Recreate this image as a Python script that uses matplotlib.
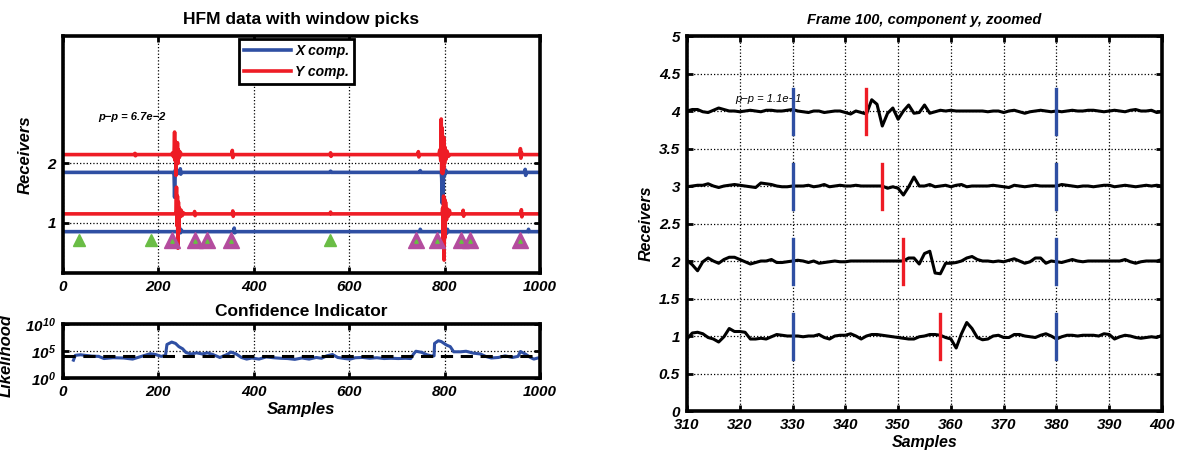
import numpy as np
import matplotlib
matplotlib.use("Agg")
import matplotlib.pyplot as plt

plt.rcParams['font.family'] = ['Liberation Sans', 'DejaVu Sans']
plt.rcParams['mathtext.fontset'] = 'custom'
plt.rcParams['mathtext.rm'] = 'Liberation Sans:italic:bold'
plt.rcParams['mathtext.it'] = 'Liberation Sans:italic:bold'
plt.rcParams['mathtext.bf'] = 'Liberation Sans:italic:bold'

BLUE = '#2f4fa3'
RED = '#ee1c25'
GREEN = '#6abd45'
MAGENTA = '#b44c9e'

# ---- left top: HFM traces (keypoints: sample, offset from baseline) ----
rec2_y_s = [0, 150, 151, 152, 153, 228, 230, 232, 233, 234, 235, 236, 237, 238, 239, 240, 241, 242, 244, 246, 248,
            354, 355, 356, 357, 560, 561, 562, 563, 744, 745, 746, 747, 788, 790, 792, 793, 794, 795, 796, 797, 798,
            799, 800, 801, 803, 805, 808, 810, 958, 959, 960, 961, 962, 1000]
rec2_y_v = [0, 0, 0.02, -0.02, 0, 0, 0.03, -0.04, 0.05, 0.38, -0.1, 0.22, -0.35, 0.18, -0.12, 0.2, -0.15, 0.08, -0.05, 0.04, 0,
            0, 0.07, -0.05, 0, 0, 0.03, -0.03, 0, 0, 0.05, -0.04, 0, 0, 0.08, -0.1, 0.6, -0.3, 0.45, -0.32, 0.3, -0.25,
            0.28, -0.15, 0.12, -0.08, 0.06, -0.03, 0, 0, 0.1, -0.06, 0.04, 0, 0]
rec2_x_s = [0, 232, 233, 234, 235, 236, 238, 245, 246, 247, 248, 560, 561, 562, 748, 749, 750, 793, 794, 795, 796, 797,
            798, 800, 802, 804, 968, 969, 970, 971, 1000]
rec2_x_v = [0, 0, -0.05, -0.42, -0.1, 0.05, -0.03, 0, 0.06, -0.03, 0, 0, 0.02, 0, 0, 0.03, 0, 0, -0.1, -0.52, -0.2, -0.4,
            0.05, -0.05, 0.04, 0, 0, 0.05, -0.05, 0, 0]
rec1_y_s = [0, 236, 237, 238, 239, 240, 241, 242, 243, 244, 246, 248, 250, 252, 255, 275, 276, 277, 278, 355, 356, 357,
            358, 560, 561, 562, 795, 796, 797, 798, 799, 800, 801, 802, 804, 806, 808, 810, 812, 838, 839, 840, 841,
            960, 961, 962, 963, 1000]
rec1_y_v = [0, 0, 0.05, 0.45, -0.2, 0.3, -0.58, 0.2, -0.3, 0.1, -0.05, 0.06, -0.03, 0.02, 0, 0, 0.04, -0.03, 0, 0, 0.05, -0.04,
            0, 0, 0.03, 0, 0, 0.1, -0.5, 0.3, -0.78, 0.25, -0.4, 0.2, -0.1, 0.08, -0.04, 0.06, 0, 0, 0.06, -0.04, 0,
            0, 0.07, -0.05, 0, 0]
rec1_x_s = [0, 240, 242, 244, 246, 248, 250, 358, 359, 360, 361, 748, 749, 750, 751, 800, 802, 804, 806, 808, 975, 976,
            977, 1000]
rec1_x_v = [0, 0, -0.03, 0.08, -0.02, 0.03, 0, 0, 0.06, -0.02, 0, 0, 0.04, 0.02, 0, 0, 0.05, -0.03, 0.04, 0, 0, 0.04,
            0, 0]

green_picks = [33, 184, 559]
magenta_picks = [229, 276, 302, 352, 741, 785, 835, 853, 958]

# ---- left bottom: likelihood (log10 values) ----
lik_s = [22, 26, 37, 60, 75, 86, 105, 127, 146, 157, 172, 183, 194, 206, 215, 218, 228, 236, 243, 251, 258, 269, 280,
         292, 303, 314, 329, 344, 352, 363, 374, 385, 396, 411, 426, 441, 456, 471, 486, 501, 516, 531, 542, 553, 565,
         576, 591, 602, 613, 628, 643, 658, 673, 688, 703, 718, 729, 735, 740, 752, 763, 774, 778, 779, 787, 793, 804,
         812, 819, 834, 845, 860, 875, 886, 898, 913, 927, 942, 954, 959, 969, 980, 987, 1000]
lik_v = [3.3, 4.2, 4.3, 4.05, 4.0, 3.6, 3.75, 3.7, 3.5, 3.8, 4.2, 4.5, 4.35, 4.0, 4.2, 6.2, 6.65, 6.4, 5.8, 5.4, 4.7, 4.45,
         4.65, 4.45, 4.65, 4.35, 3.8, 4.35, 4.8, 4.45, 3.8, 3.5, 3.7, 3.5, 3.9, 3.75, 3.65, 3.6, 3.45, 3.7, 3.5, 3.8, 3.65,
         4.1, 4.35, 3.8, 3.6, 3.5, 3.75, 3.8, 3.65, 3.75, 3.6, 3.65, 3.6, 3.65, 3.6, 4.45, 4.95, 4.75, 4.3, 4.05, 4.1,
         6.4, 6.9, 6.75, 6.1, 5.8, 4.85, 4.85, 4.95, 4.6, 4.45, 4.0, 3.7, 3.8, 4.1, 3.8, 4.0, 4.9, 4.45, 3.8, 3.5, 3.8]
lik_threshold = 10 ** 4.05

# ---- right: zoomed frame 100, component y ----
zoom_s = list(range(310, 401))
trace4 = [0, 0.02, 0.02, -0.01, -0.02, 0.01, 0.04, 0.02, 0, 0, -0.01, 0, 0.01, 0, -0.01, 0.01, 0.01, 0, 0, 0.01,
          0.02, 0, -0.01, -0.02, 0, 0, -0.02, -0.01, 0, 0, -0.02, -0.04, 0, -0.02, -0.04, 0.15, 0.09, -0.2, -0.03, 0.04,
          -0.11, 0, 0.08, -0.03, -0.02, 0.08, -0.03, -0.01, 0.01, 0, 0.01, 0, 0, 0, 0, 0, 0, -0.01, 0, 0,
          -0.02, 0, 0.01, -0.01, -0.03, -0.01, 0, 0.01, 0, -0.01, 0, -0.01, 0, 0.01, 0, 0, 0.01, 0.01, 0, -0.01,
          0, 0.01, 0, -0.01, 0.01, 0.02, 0, 0, 0.01, -0.02, -0.01]
trace3 = [-0.01, 0, 0.01, 0.01, 0.03, 0, -0.02, 0, 0.01, 0.02, 0.01, 0, -0.01, -0.02, 0.04, 0.03, 0.02, 0, -0.01, -0.01,
          0, 0, 0, 0.01, -0.01, 0, 0.02, -0.01, 0, 0.01, 0, 0, 0.01, 0, 0, 0, 0, 0, -0.03, -0.01,
          -0.03, -0.12, -0.01, 0.12, 0, 0, 0.02, -0.01, 0, 0.01, -0.01, 0.01, 0.02, -0.01, 0, 0, 0, 0, 0.01, 0,
          -0.01, -0.02, 0.01, 0, -0.01, 0, 0.01, 0, 0, 0, 0, 0.02, 0.01, 0, -0.01, 0, 0, -0.01, 0, 0.01,
          0.01, -0.01, 0, 0.01, 0, -0.01, 0, 0.01, 0, 0.01, 0]
trace2 = [0.01, -0.05, -0.13, -0.01, 0.04, 0, -0.03, 0.02, 0.05, 0.05, 0.02, -0.01, -0.04, -0.02, 0, 0, 0.02, -0.02, -0.02, -0.01,
          0, 0.01, 0, -0.02, 0, -0.03, -0.02, -0.01, 0, -0.01, -0.01, 0, 0, 0, 0, 0, 0, 0, 0, 0,
          0, 0, 0.04, 0.04, -0.04, 0.1, 0.13, -0.16, -0.17, -0.03, -0.03, -0.02, 0, 0.04, 0.06, 0.02, 0, 0, -0.01, 0,
          -0.01, 0.01, 0.03, 0, -0.03, -0.01, 0.04, 0.04, -0.03, 0, -0.01, -0.02, 0, 0.02, 0, -0.01, 0, 0, 0, 0,
          0, 0, 0, 0.02, -0.01, -0.03, -0.01, 0, 0, 0, 0.02]
trace1 = [-0.04, 0.04, 0.05, 0.03, -0.02, -0.04, -0.08, -0.01, 0.1, 0.06, 0.06, 0.05, -0.04, -0.04, -0.03, -0.04, -0.01, 0.02, 0.01, 0,
          0, 0, -0.01, 0, 0, 0.02, -0.02, -0.04, 0, 0.01, 0.01, 0.03, 0, -0.04, 0, 0.02, 0.02, 0.01, 0, -0.01,
          -0.02, -0.03, -0.04, -0.04, -0.01, 0, 0.02, 0.02, 0.01, -0.02, -0.04, -0.16, 0.03, 0.18, 0.1, -0.02, -0.05, -0.04, 0, 0.01,
          -0.02, -0.02, 0.02, 0.02, 0, -0.01, -0.02, 0.01, 0.03, 0, -0.04, -0.01, 0.01, 0.01, 0, 0.01, 0.01, 0.01, 0, 0.03,
          0.02, -0.04, -0.01, 0.01, 0, -0.02, -0.03, -0.02, -0.01, -0.02, 0.01]
red_picks = [358, 351, 347, 344]
blue_picks = [330, 380]


def matlab_box(ax):
    for sp in ax.spines.values():
        sp.set_linewidth(2.6)
    ax.tick_params(direction='in', top=True, right=True, width=2, length=4, labelsize=11, pad=5)
    for lab in ax.get_xticklabels() + ax.get_yticklabels():
        lab.set_fontweight('bold')
        lab.set_fontstyle('italic')


fig = plt.figure(figsize=(11.79, 4.53), dpi=100)

# left top
ax1 = fig.add_axes([0.0534, 0.397, 0.4046, 0.5235])
ax1.plot(rec2_x_s, 1.85 + np.array(rec2_x_v), color=BLUE, lw=2.6, label='X comp.')
ax1.plot(rec2_y_s, 2.15 + np.array(rec2_y_v), color=RED, lw=2.6, label='Y comp.')
ax1.plot(rec1_x_s, 0.85 + np.array(rec1_x_v), color=BLUE, lw=2.6)
ax1.plot(rec1_y_s, 1.15 + np.array(rec1_y_v), color=RED, lw=2.6)
ax1.plot(green_picks, [0.71] * len(green_picks), '^', color=GREEN, ms=8, mec=GREEN)
ax1.plot(magenta_picks, [0.71] * len(magenta_picks), '^', color=MAGENTA, ms=11, mec=MAGENTA)
ax1.plot(magenta_picks, [0.69] * len(magenta_picks), '^', color=GREEN, ms=2.5, mec=GREEN)
ax1.set_xlim(0, 1000)
ax1.set_ylim(0.15, 4.15)
ax1.set_xticks([0, 200, 400, 600, 800, 1000])
ax1.set_yticks([1, 2])
ax1.grid(True, linestyle=':', color='k', lw=0.9)
ax1.set_ylabel('Receivers', fontsize=12, fontweight='bold', fontstyle='italic')
ax1.yaxis.set_label_coords(-0.063, 0.5)
ax1.set_title('HFM data with window picks', fontsize=12.5, fontweight='bold', pad=9)
ax1.text(75, 2.74, 'p\u2212p = 6.7e\u22122', fontsize=8, fontweight='bold', fontstyle='italic')
leg = ax1.legend(loc='upper center', bbox_to_anchor=(0.49, 1.0), fancybox=False, framealpha=1,
                 edgecolor='k', handlelength=3.4, handletextpad=0.3, borderpad=0.35, borderaxespad=0.25,
                 prop={'weight': 'bold', 'style': 'italic', 'size': 10})
leg.get_frame().set_linewidth(2)
matlab_box(ax1)

# left bottom
ax2 = fig.add_axes([0.0534, 0.1656, 0.4046, 0.1192])
ax2.plot(lik_s, 10 ** np.array(lik_v), color=BLUE, lw=2.2)
ax2.axhline(lik_threshold, color='k', lw=2.2, ls=(0, (4, 2.5)))
ax2.set_yscale('log')
ax2.set_xlim(0, 1000)
ax2.set_ylim(1, 1e10)
ax2.set_xticks([0, 200, 400, 600, 800, 1000])
ax2.set_yticks([1, 1e5, 1e10])
ax2.set_yticklabels([r'$10^{0}$', r'$10^{5}$', r'$10^{10}$'])
ax2.minorticks_off()
ax2.grid(True, linestyle=':', color='k', lw=0.9)
ax2.set_xlabel('Samples', fontsize=12, fontweight='bold', fontstyle='italic', labelpad=2)
ax2.set_ylabel('Likelihood', fontsize=12, fontweight='bold', fontstyle='italic')
ax2.yaxis.set_label_coords(-0.103, 0.42)
ax2.set_title('Confidence Indicator', fontsize=12.5, fontweight='bold', pad=6)
matlab_box(ax2)

# right
ax3 = fig.add_axes([0.5827, 0.0927, 0.4029, 0.8278])
for base, tr, rp in zip([1, 2, 3, 4], [trace1, trace2, trace3, trace4], red_picks):
    ax3.plot(zoom_s, base + np.array(tr), color='k', lw=2.2, zorder=3)
    for bp in blue_picks:
        ax3.plot([bp, bp], [base - 0.3, base + 0.3], color=BLUE, lw=2.4, zorder=4)
    ax3.plot([rp, rp], [base - 0.3, base + 0.3], color=RED, lw=2.4, zorder=4)
ax3.text(319.2, 4.12, 'p\u2212p = 1.1e\u22121', fontsize=8, fontstyle='italic', zorder=2)
ax3.set_xlim(310, 400)
ax3.set_ylim(0, 5)
ax3.set_xticks(range(310, 401, 10))
ax3.set_yticks(np.arange(0, 5.01, 0.5))
ax3.set_yticklabels(['0', '0.5', '1', '1.5', '2', '2.5', '3', '3.5', '4', '4.5', '5'])
ax3.grid(True, linestyle=':', color='k', lw=0.9)
ax3.set_xlabel('Samples', fontsize=11.5, fontweight='bold', fontstyle='italic', labelpad=2)
ax3.set_ylabel('Receivers', fontsize=11.5, fontweight='bold', fontstyle='italic', labelpad=4)
ax3.set_title('Frame 100, component y, zoomed', fontsize=10.5, fontweight='bold', fontstyle='italic', pad=9)
matlab_box(ax3)

fig.savefig('out.png', dpi=100)
